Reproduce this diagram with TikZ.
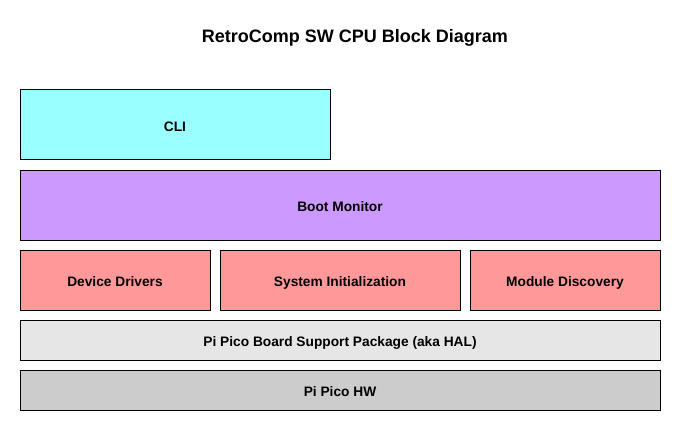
\documentclass[tikz,border=0pt]{standalone}
\usepackage{fontspec}
\setmainfont{Liberation Sans}
\definecolor{cliC}{HTML}{99FFFF}
\definecolor{bootC}{HTML}{CC99FF}
\definecolor{midC}{HTML}{FF9999}
\definecolor{bspC}{HTML}{E6E6E6}
\definecolor{hwC}{HTML}{CCCCCC}
\tikzset{
  blk/.style={draw=black, line width=0.75pt, font=\fontsize{10.3pt}{12pt}\selectfont\bfseries},
  lbl/.style={yshift=-2.6pt, text height=0.75em, text depth=0.25em},
}
\begin{document}
\begin{tikzpicture}[x=0.75pt,y=-0.75pt]
\useasboundingbox (0,0) rectangle (681,431);
\node[font=\fontsize{13.5pt}{16pt}\selectfont\bfseries] (title) at (355,38) {RetroComp SW CPU Block Diagram};
\draw[blk, fill=cliC] (20,90) rectangle node[lbl] (cli) {CLI} (330,160);
\draw[blk, fill=bootC] (20,170) rectangle node[lbl] (boot) {Boot Monitor} (660,240);
\draw[blk, fill=midC] (20,250) rectangle node[lbl] (dd) {Device Drivers} (210,310);
\draw[blk, fill=midC] (220,250) rectangle node[lbl] (si) {System Initialization} (460,310);
\draw[blk, fill=midC] (470,250) rectangle node[lbl] (md) {Module Discovery} (660,310);
\draw[blk, fill=bspC] (20,320) rectangle node[lbl] (bsp) {Pi Pico Board Support Package (aka HAL)} (660,360);
\draw[blk, fill=hwC] (20,370) rectangle node[lbl] (hw) {Pi Pico HW} (660,410);
\end{tikzpicture}
\end{document}
